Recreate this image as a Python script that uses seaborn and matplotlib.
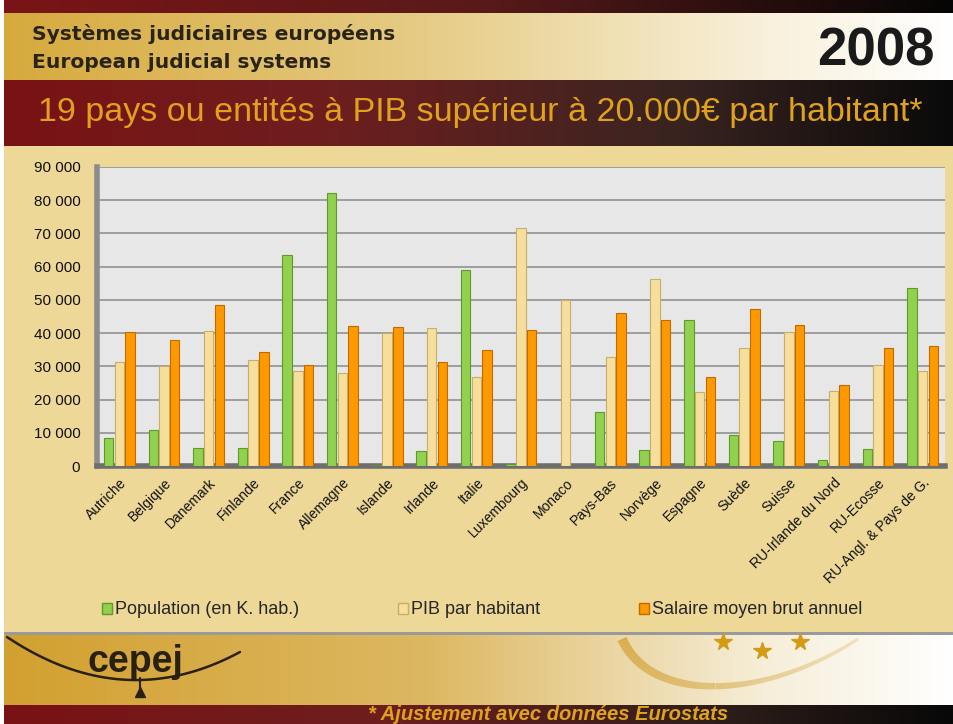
import numpy as np
import pandas as pd
import matplotlib
matplotlib.use("Agg")
import matplotlib.pyplot as plt
from matplotlib.patches import Patch
from matplotlib.ticker import FuncFormatter, MultipleLocator
import seaborn as sns

# data
pays = ["Autriche", "Belgique", "Danemark", "Finlande", "France", "Allemagne",
        "Islande", "Irlande", "Italie", "Luxembourg", "Monaco", "Pays-Bas",
        "Norvège", "Espagne", "Suède", "Suisse", "RU-Irlande du Nord",
        "RU-Ecosse", "RU-Angl. & Pays de G."]
population = [8300, 10700, 5500, 5300, 63400, 82200, 300, 4400, 59000, 500,
              30, 16400, 4700, 43800, 9200, 7600, 1800, 5200, 53700]
pib = [31200, 30000, 40600, 31800, 28700, 28000, 40000, 41400, 26700, 71700,
       49900, 32900, 56300, 22400, 35500, 40200, 22700, 30400, 28700]
salaire = [40400, 37800, 48600, 34400, 30400, 42200, 41900, 31200, 34800, 40800,
           np.nan, 46000, 44000, 26800, 47200, 42300, 24300, 35600, 36000]
series = ["Population (en K. hab.)", "PIB par habitant", "Salaire moyen brut annuel"]
colors = ["#92D050", "#F6DE9C", "#FF9900"]
edges = ["#5E9A2A", "#C9AE6A", "#C06A00"]

df = pd.DataFrame({"pays": pays * 3,
                   "serie": np.repeat(series, len(pays)),
                   "valeur": population + pib + salaire})

sns.set_theme(style="white")
plt.rcParams["font.family"] = ["Liberation Sans", "DejaVu Sans"]

W, H = 954, 724
fig = plt.figure(figsize=(W / 100, H / 100), dpi=100)

# slide background built as an image
bg = np.zeros((H, W, 3))
x = np.linspace(0, 1, W)


def band(y0, y1, stops):
    pos = [s[0] for s in stops]
    cols = np.array([matplotlib.colors.to_rgb(s[1]) for s in stops])
    row = np.stack([np.interp(x, pos, cols[:, i]) for i in range(3)], axis=1)
    bg[y0:y1] = row


bg[:] = matplotlib.colors.to_rgb("#EDD898")
band(0, 13, [(0, "#7A1416"), (0.5, "#5A1A1A"), (1, "#050505")])
band(13, 80, [(0, "#D6A93C"), (0.45, "#E6CC86"), (0.8, "#F8F0DA"), (1, "#FFFFFF")])
band(80, 146, [(0, "#7A1214"), (0.35, "#6E1E1E"), (0.7, "#3A2420"), (1, "#0A0A0A")])
band(632, 635, [(0, "#9A9A9A"), (1, "#9A9A9A")])
band(635, 705, [(0, "#D2A030"), (0.45, "#DDB862"), (0.8, "#F6EED8"), (1, "#FFFFFF")])
band(705, 724, [(0, "#7A1214"), (0.4, "#6E1E1E"), (0.75, "#2E1E1A"), (1, "#080808")])
bg[:, :4] = 1.0

bgax = fig.add_axes([0, 0, 1, 1])
bgax.imshow(bg, aspect="auto", extent=[0, W, H, 0])
bgax.set_xlim(0, W)
bgax.set_ylim(H, 0)
bgax.axis("off")

# header texts
bgax.text(32, 34, "Systèmes judiciaires européens", fontsize=14.6, fontweight="bold",
          color="#2A2418", va="center", family="DejaVu Sans")
bgax.text(32, 62, "European judicial systems", fontsize=14.6, fontweight="bold",
          color="#2A2418", va="center", family="DejaVu Sans")
bgax.text(935, 51, "2008", fontsize=38, fontweight="bold", color="#1A1A1A",
          ha="right", va="center")
bgax.text(38, 112, "19 pays ou entités à PIB supérieur à 20.000€ par habitant*",
          fontsize=24.5, color="#E0A21C", va="center")

# footer decorations
cx = np.linspace(7, 240, 80)
coef = np.polyfit([7, 140, 240], [637, 680, 652], 2)
bgax.plot(cx, np.polyval(coef, cx), color="#2A2010", lw=1.8)
bgax.text(88, 662, "cepej", fontsize=27, fontweight="bold", color="#2A2010", va="center")
bgax.plot([140, 140], [678, 692], color="#2A2010", lw=1.5)
bgax.plot(140, 692, marker="^", ms=7, color="#2A2010")
tt = np.linspace(0, 1, 80)[:, None]
p0, p1, p2, p3 = (np.array(p) for p in [(622, 639), (650, 702), (760, 702), (858, 639)])
curve = (1 - tt) ** 3 * p0 + 3 * (1 - tt) ** 2 * tt * p1 + 3 * (1 - tt) * tt ** 2 * p2 + tt ** 3 * p3
for i in range(len(curve) - 1):
    bgax.plot(curve[i:i + 2, 0], curve[i:i + 2, 1], color="#D6A640",
              lw=7 - 5 * i / len(curve), alpha=0.85 - 0.6 * i / len(curve),
              solid_capstyle="butt")
bgax.plot([723, 762, 800], [642, 651, 642], ls="none", marker="*", ms=13, color="#D49A14")
bgax.text(548, 714, "* Ajustement avec données Eurostats", fontsize=14.5, fontweight="bold",
          style="italic", color="#E0A21C", ha="center", va="center")

# chart
ax = fig.add_axes([97 / W, 1 - 466 / H, 848 / W, 299 / H])
ax.set_facecolor("#E7E7E7")
sns.barplot(data=df, x="pays", y="valeur", hue="serie", palette=colors, ax=ax,
            width=0.72, gap=0.12, saturation=1, legend=False, zorder=3)
for cont, ec in zip(ax.containers, edges):
    for bar in cont:
        bar.set_edgecolor(ec)
        bar.set_linewidth(0.8)

ax.set_ylim(0, 90000)
ax.set_xlim(-0.5, len(pays) - 0.5)
ax.yaxis.set_major_locator(MultipleLocator(10000))
ax.yaxis.set_major_formatter(FuncFormatter(lambda v, p: f"{int(v):,}".replace(",", " ")))
ax.grid(axis="y", color="#8A8A8A", lw=1.1, zorder=0)
ax.set_axisbelow(True)
ax.set_xlabel("")
ax.set_ylabel("")
for s in ["top", "right"]:
    ax.spines[s].set_visible(False)
ax.spines["left"].set_color("#8C8C8C")
ax.spines["left"].set_linewidth(4)
ax.spines["bottom"].set_color("#6E6E6E")
ax.spines["bottom"].set_linewidth(4)
ax.tick_params(axis="y", labelsize=11, colors="#111111", length=6, color="#8C8C8C", pad=6)
ax.set_xticks(range(len(pays)))
ax.set_xticklabels(pays, rotation=45, ha="right", rotation_mode="anchor", fontsize=10,
                   color="#111111")
ax.tick_params(axis="x", length=0, pad=7)
ax.set_xticks(np.arange(-0.5, len(pays)), minor=True)
ax.tick_params(axis="x", which="minor", length=4, color="#8C8C8C")

handles = [Patch(facecolor=c, edgecolor=e, label=s) for s, c, e in zip(series, colors, edges)]
fig.legend(handles=handles, loc="center left", bbox_to_anchor=(86 / W, 1 - 610 / H),
           ncol=3, frameon=False, fontsize=13, handlelength=0.55, handleheight=0.55,
           handletextpad=0.15, columnspacing=5.5)

fig.savefig("out.png", dpi=100)
